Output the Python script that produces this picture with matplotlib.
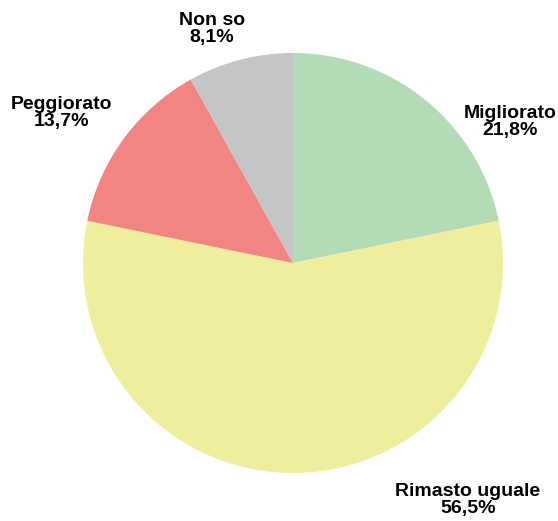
import matplotlib.pyplot as plt

labels = ['Migliorato', 'Rimasto uguale', 'Peggiorato', 'Non so']
values = [21.8, 56.5, 13.7, 8.1]
colors = ['#b3dbb6', '#efee9c', '#f28482', '#c4c5c7']
# label positions relative to pie centre, in radius units
label_pos = [(1.033, 0.67), (0.833, -1.13), (-1.10, 0.715), (-0.386, 1.115)]

W, H = 558, 521
cx, cy, r = 293, 263, 210

fig = plt.figure(figsize=(W / 100, H / 100), dpi=100)
ax = fig.add_axes([(cx - r) / W, (H - cy - r) / H, 2 * r / W, 2 * r / H])
ax.pie(values, colors=colors, startangle=90, counterclock=False, radius=1,
       wedgeprops=dict(linewidth=0))
ax.set_xlim(-1, 1)
ax.set_ylim(-1, 1)
ax.set_aspect('equal')
ax.axis('off')

for lab, v, (x, y) in zip(labels, values, label_pos):
    txt = '%s\n%s%%' % (lab, ('%.1f' % v).replace('.', ','))
    ax.text(x, y, txt, ha='center', va='center', fontsize=14, fontweight='bold',
            family='Liberation Sans', linespacing=1.0, clip_on=False)

fig.savefig('out.png', dpi=100)
